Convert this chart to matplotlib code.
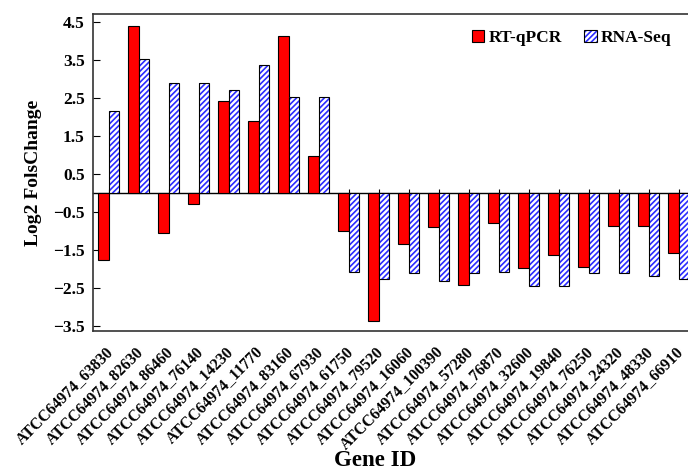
import matplotlib
matplotlib.use("Agg")
import numpy as np
import matplotlib.pyplot as plt
import matplotlib.transforms as mtransforms

plt.rcParams['font.family'] = ['Liberation Serif', 'DejaVu Serif']
plt.rcParams['font.weight'] = 'bold'
plt.rcParams['hatch.linewidth'] = 1.2

genes = ["ATCC64974_63830", "ATCC64974_82630", "ATCC64974_86460", "ATCC64974_76140",
         "ATCC64974_14230", "ATCC64974_11770", "ATCC64974_83160", "ATCC64974_67930",
         "ATCC64974_61750", "ATCC64974_79520", "ATCC64974_16060", "ATCC64974_100390",
         "ATCC64974_57280", "ATCC64974_76870", "ATCC64974_32600", "ATCC64974_19840",
         "ATCC64974_76250", "ATCC64974_24320", "ATCC64974_48330", "ATCC64974_66910"]
rt_qpcr = [-1.77, 4.39, -1.05, -0.30, 2.41, 1.89, 4.13, 0.97, -1.00, -3.37,
           -1.36, -0.90, -2.44, -0.80, -1.99, -1.64, -1.96, -0.87, -0.87, -1.60]
rna_seq = [2.15, 3.51, 2.89, 2.88, 2.70, 3.36, 2.51, 2.51, -2.10, -2.28,
           -2.12, -2.32, -2.12, -2.09, -2.45, -2.45, -2.12, -2.12, -2.18, -2.27]
yticks = [4.5, 3.5, 2.5, 1.5, 0.5, -0.5, -1.5, -2.5, -3.5]

x = np.arange(len(genes))
w = 0.35

fig = plt.figure(figsize=(6.88, 4.70), dpi=100)
ax = fig.add_axes([93/688, 139/470, 607/688, 317/470])

red = ax.bar(x - w/2, rt_qpcr, w, color='#ff0000', edgecolor='black', linewidth=0.8, zorder=2)
# hatched fill for RNA-Seq, then a black outline on top
blue_h = ax.bar(x + w/2, rna_seq, w, color='white', edgecolor='#2b2bff', hatch='//////',
                linewidth=0, zorder=2)
blue_e = ax.bar(x + w/2, rna_seq, w, fill=False, edgecolor='black', linewidth=0.8, zorder=3)

ax.set_xlim(-0.533, 19.7)
ax.set_ylim(-3.64, 4.70)
ax.set_yticks(yticks)
ax.set_yticklabels([f"{t:.1f}".replace('-', '\u2212') for t in yticks])
ax.tick_params(axis='y', direction='in', length=5, labelsize=12.5, pad=6)

ax.set_xticks(x)
ax.set_xticklabels(genes, rotation=45, ha='right', rotation_mode='anchor', fontsize=11.4)
ax.tick_params(axis='x', length=0, pad=9)
shift = mtransforms.ScaledTranslation(-4/100, 0, fig.dpi_scale_trans)
for lbl in ax.get_xticklabels():
    lbl.set_transform(lbl.get_transform() + shift)

# zero line with small upward ticks at each gene
ylo, yhi = ax.get_ylim()
sec = ax.secondary_xaxis((0 - ylo) / (yhi - ylo))
sec.set_xticks(x)
sec.set_xticklabels([])
sec.tick_params(direction='in', length=3, width=0.8)
sec.spines['bottom'].set_linewidth(1.0)

for s in ax.spines.values():
    s.set_linewidth(1.2)
    s.set_color('#333333')

ax.set_ylabel("Log2 FolsChange", fontsize=14, fontweight='bold', labelpad=8)
fig.text(375/688, 1 - 461/470, "Gene ID", ha='center', va='center', fontsize=16.5, fontweight='bold')

fig.legend([red, (blue_h, blue_e)], ["RT-qPCR", "RNA-Seq"], ncol=2, frameon=False,
           loc='center left', bbox_to_anchor=(472/688, 1 - 38/470), fontsize=12.5,
           borderpad=0, borderaxespad=0,
           handlelength=0.7, handleheight=0.7, handletextpad=0.25, columnspacing=1.3)

fig.savefig("out.png", dpi=100)
